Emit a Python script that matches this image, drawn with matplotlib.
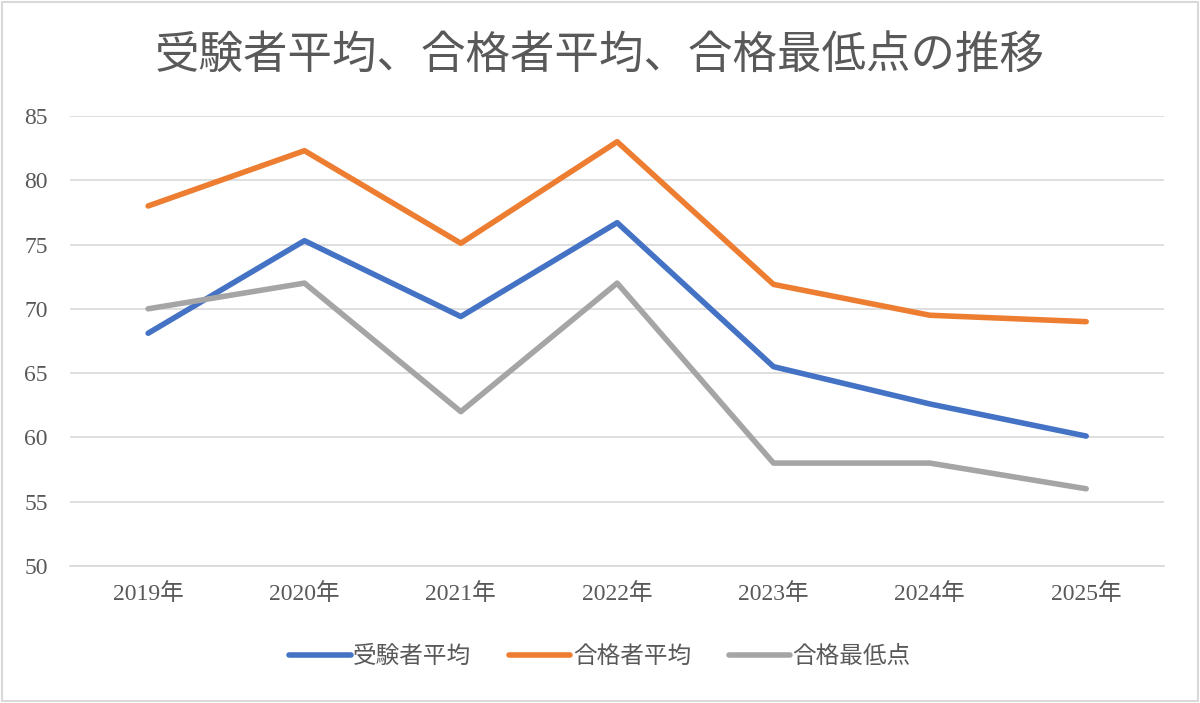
import matplotlib
matplotlib.use("Agg")
import matplotlib.pyplot as plt
from matplotlib.patches import Rectangle

plt.rcParams['font.family'] = ['Liberation Serif', 'Noto Sans CJK JP', 'DejaVu Sans']

years = ['2019年', '2020年', '2021年', '2022年', '2023年', '2024年', '2025年']
examinee_avg = [68.1, 75.3, 69.4, 76.7, 65.5, 62.6, 60.1]
passer_avg = [78.0, 82.3, 75.1, 83.0, 71.9, 69.5, 69.0]
passing_min = [70, 72, 62, 72, 58, 58, 56]
series_names = ['受験者平均', '合格者平均', '合格最低点']
colors = ['#4472C4', '#ED7D31', '#A5A5A5']

fig = plt.figure(figsize=(12, 7.03), dpi=100)
ax = fig.add_axes([0.0583, 0.195, 0.912, 0.64])

x = list(range(len(years)))
for vals, name, c in zip([examinee_avg, passer_avg, passing_min], series_names, colors):
    ax.plot(x, vals, color=c, lw=4, label=name, solid_capstyle='round', solid_joinstyle='round')

ax.set_xlim(-0.5, len(years) - 0.5)
ax.set_ylim(50, 85)
ax.set_yticks(range(50, 86, 5))
ax.set_xticks(x)
ax.set_xticklabels(years)
ax.grid(axis='y', color='#D9D9D9', lw=1.2)
ax.set_axisbelow(True)
for s in ['top', 'right', 'left']:
    ax.spines[s].set_visible(False)
ax.spines['bottom'].set_color('#D9D9D9')
ax.spines['bottom'].set_linewidth(1.2)
ax.tick_params(length=0, labelsize=17, colors='#595959', pad=12)
ax.tick_params(axis='y', pad=16)

fig.suptitle('受験者平均、合格者平均、合格最低点の推移', y=0.955, fontsize=32,
             color='#595959', family=['Noto Sans CJK JP'])

leg = fig.legend(loc='center', bbox_to_anchor=(0.5, 0.066), ncol=3, frameon=False,
                 handlelength=2.6, columnspacing=1.6, handletextpad=0.1,
                 prop={'family': ['Noto Sans CJK JP'], 'size': 17})
for t in leg.get_texts():
    t.set_color('#595959')

fig.patches.append(Rectangle((0.002, 0.003), 0.996, 0.994, transform=fig.transFigure,
                             fill=False, edgecolor='#D9D9D9', lw=1.5))

fig.savefig('out.png', dpi=100, facecolor='white')
